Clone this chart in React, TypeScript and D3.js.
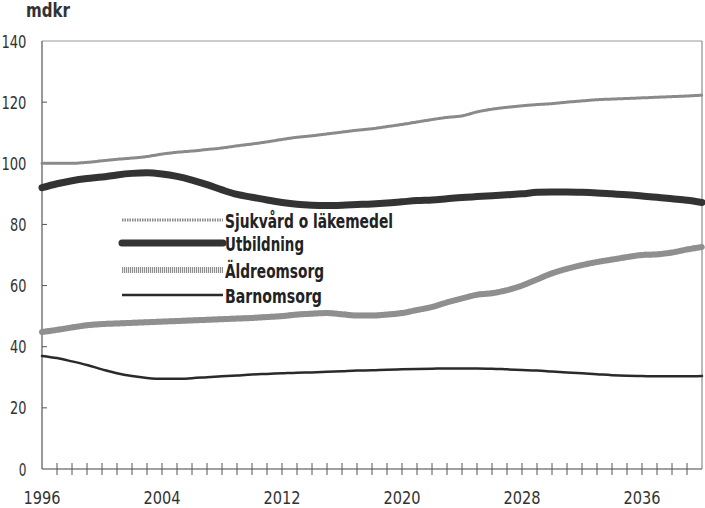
import React from "react";
import * as d3 from "d3";

const years: number[] = d3.range(1996, 2041);
const sjukvard = [100, 100, 100, 100.3, 100.8, 101.3, 101.7, 102.2, 103, 103.6, 104, 104.5, 105, 105.7, 106.3, 107, 107.8, 108.5, 109, 109.6, 110.2, 110.8, 111.3, 112, 112.7, 113.5, 114.3, 115, 115.5, 116.8, 117.7, 118.3, 118.8, 119.2, 119.5, 120, 120.4, 120.8, 121, 121.2, 121.4, 121.6, 121.8, 122, 122.3];
const utbildning = [92, 93.3, 94.3, 95, 95.5, 96.2, 96.7, 96.9, 96.5, 95.7, 94.5, 93, 91.3, 89.8, 88.9, 88, 87.2, 86.6, 86.3, 86.2, 86.3, 86.5, 86.7, 87, 87.4, 87.8, 88, 88.4, 88.8, 89.1, 89.4, 89.7, 90, 90.5, 90.6, 90.6, 90.5, 90.3, 90, 89.7, 89.3, 88.9, 88.4, 87.9, 87.2];
const aldreomsorg = [44.8, 45.5, 46.3, 47, 47.4, 47.6, 47.8, 48, 48.2, 48.4, 48.6, 48.8, 49, 49.2, 49.4, 49.7, 50, 50.5, 50.8, 51, 50.6, 50.2, 50.2, 50.5, 51, 52, 53, 54.5, 55.8, 57, 57.5, 58.5, 60, 62, 64, 65.5, 66.7, 67.7, 68.5, 69.3, 70, 70.2, 70.8, 71.8, 72.6];
const barnomsorg = [37, 36.3, 35.2, 34, 32.6, 31.3, 30.4, 29.8, 29.5, 29.5, 29.7, 30, 30.3, 30.6, 30.9, 31.1, 31.3, 31.5, 31.6, 31.8, 32, 32.2, 32.3, 32.5, 32.6, 32.7, 32.8, 32.9, 32.9, 32.9, 32.8, 32.6, 32.4, 32.2, 31.9, 31.6, 31.3, 31, 30.7, 30.5, 30.4, 30.3, 30.3, 30.3, 30.4];
const seriesNames = ["Sjukvård o läkemedel", "Utbildning", "Äldreomsorg", "Barnomsorg"];
const yTicks = [0, 20, 40, 60, 80, 100, 120, 140];
const xLabels = [1996, 2004, 2012, 2020, 2028, 2036];
const unitLabel = "mdkr";

const FONT = "'Liberation Sans Narrow', 'DejaVu Sans Condensed', 'Roboto Condensed', sans-serif";

export default function App() {
  const W = 705, H = 508;
  const left = 42, right = 702, top = 41, bottom = 469;
  const x = d3.scaleLinear().domain([1996, 2040]).range([left, right]);
  const y = d3.scaleLinear().domain([0, 140]).range([bottom, top]);
  const line = (vals: number[]) =>
    d3.line<number>().x((_, i) => x(years[i])).y((v) => y(v)).curve(d3.curveMonotoneX)(vals) || "";

  const styles = [
    { data: sjukvard, stroke: "#8a8a8a", width: 3, dash: "1.5,1" },
    { data: utbildning, stroke: "#333", width: 7, dash: "" },
    { data: aldreomsorg, stroke: "#8f8f8f", width: 6, dash: "1.2,0.8" },
    { data: barnomsorg, stroke: "#2a2a2a", width: 2.5, dash: "" },
  ];
  const legendY = [220, 243, 270, 295];
  const legendW = [168, 79, 99, 97];
  const digitW = 8.7;

  return (
    <svg width={W} height={H} style={{ position: "absolute", left: 0, top: 0, background: "#fff" }} fontFamily={FONT}>
      <rect width={W} height={H} fill="#fff" />
      <text x={26} y={17} fontSize={19} fontWeight="bold" fill="#333" textLength={44} lengthAdjust="spacingAndGlyphs">{unitLabel}</text>
      {/* frame */}
      <line x1={left} x2={right} y1={top} y2={top} stroke="#999" strokeWidth={1} />
      <line x1={right} x2={right} y1={top} y2={bottom} stroke="#777" strokeWidth={1} />
      <line x1={left} x2={left} y1={top} y2={bottom} stroke="#555" strokeWidth={1.2} />
      <line x1={left} x2={right} y1={bottom} y2={bottom} stroke="#444" strokeWidth={1.2} />
      {yTicks.map((t) => {
        const s = String(t);
        return (
          <g key={t}>
            {t > 0 && t < 140 && <line x1={left} x2={left + 5} y1={y(t)} y2={y(t)} stroke="#555" />}
            <text x={26.5} y={y(t) + 6.5} textAnchor="end" fontSize={18.5} fill="#333"
              textLength={s.length * digitW - 1} lengthAdjust="spacingAndGlyphs">{s}</text>
          </g>
        );
      })}
      {years.slice(1, -1).map((yr) => (
        <line key={yr} x1={x(yr)} x2={x(yr)} y1={bottom - 6} y2={bottom + 6} stroke="#555" strokeWidth={1} />
      ))}
      {xLabels.map((yr) => (
        <text key={yr} x={x(yr)} y={503.5} textAnchor="middle" fontSize={18} fill="#333"
          textLength={37} lengthAdjust="spacingAndGlyphs">{yr}</text>
      ))}
      {styles.map((s, i) => (
        <path key={i} d={line(s.data)} fill="none" stroke={s.stroke} strokeWidth={s.width}
          strokeDasharray={s.dash || undefined} strokeLinecap="round" strokeLinejoin="round" />
      ))}
      {styles.map((s, i) => (
        <g key={"l" + i}>
          <line x1={122} x2={223} y1={legendY[i]} y2={legendY[i]} stroke={s.stroke} strokeWidth={s.width}
            strokeDasharray={s.dash || undefined} strokeLinecap={i === 1 ? "round" : "butt"} />
          <text x={225} y={legendY[i] + 8} fontSize={20} fontWeight="bold" fill="#222"
            textLength={legendW[i]} lengthAdjust="spacingAndGlyphs">{seriesNames[i]}</text>
        </g>
      ))}
    </svg>
  );
}
